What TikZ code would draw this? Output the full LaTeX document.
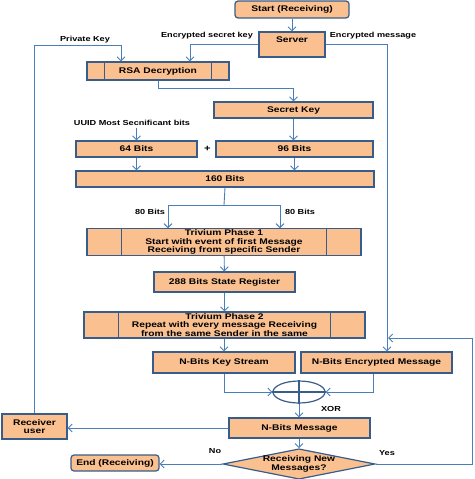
\documentclass[tikz,border=0pt]{standalone}
\usepackage{fontspec}
\setmainfont{Liberation Sans}[FakeStretch=1.25]
\usetikzlibrary{shapes.geometric,arrows.meta}
\definecolor{boxfill}{HTML}{FAC090}
\definecolor{boxline}{HTML}{385D8A}
\definecolor{flow}{HTML}{4A7EBB}
\begin{document}
\begin{tikzpicture}[x=1pt,y=-1pt,
    box/.style={draw=boxline, fill=boxfill, line width=1.2pt, inner sep=1pt,
      align=center, font=\fontsize{8.2}{8.3}\selectfont\bfseries},
    lbl/.style={inner sep=0pt, font=\fontsize{7.3}{8}\selectfont\bfseries},
    arr/.style={draw=flow, line width=0.9pt, -{Straight Barb[length=4pt,width=8pt]}},
    wire/.style={draw=flow, line width=0.9pt}]
  \useasboundingbox (0,0) rectangle (474,479);

  % Cajas
  \node[box, rounded corners=3pt, minimum width=114pt, minimum height=17pt] (start) at (292,9.5) {Start (Receiving)};
  \node[box, minimum width=66pt, minimum height=25pt, text depth=9pt] (server) at (292,44.5) {Server};
  \node[box, minimum width=142pt, minimum height=18pt] (rsa) at (158,71) {RSA Decryption};
  \node[box, minimum width=159pt, minimum height=16pt] (secret) at (293.5,110) {Secret Key};
  \node[box, minimum width=121pt, minimum height=16pt] (b64) at (136.5,149) {64 Bits};
  \node[box, minimum width=157pt, minimum height=16pt] (b96) at (294.5,149) {96 Bits};
  \node[box, minimum width=298pt, minimum height=16pt] (b160) at (225,179) {160 Bits};
  \node[box, minimum width=274pt, minimum height=26pt] (tri1) at (224,242)
    {Trivium Phase 1\\Start with event of first Message\\Receiving from specific Sender};
  \node[box, minimum width=141pt, minimum height=20pt] (reg) at (224.5,282) {288 Bits State Register};
  \node[box, minimum width=281pt, minimum height=26pt] (tri2) at (224.5,325)
    {Trivium Phase 2\\Repeat with every message Receiving\\from the same Sender in the same};
  \node[box, minimum width=142pt, minimum height=21pt] (key) at (224,362.5) {N-Bits Key Stream};
  \node[box, minimum width=151pt, minimum height=21pt] (enc) at (376.5,362.5) {N-Bits Encrypted Message};
  \node[draw=boxline, ellipse, line width=1.2pt, minimum width=52pt, minimum height=22pt] (xor) at (299,392) {};
  \node[box, minimum width=141pt, minimum height=20pt] (msg) at (299.5,428) {N-Bits Message};
  \node[box, minimum width=65pt, minimum height=25pt] (user) at (34.5,426.5) {Receiver\\user};
  \node[box, diamond, aspect=5, inner sep=0pt, minimum width=148pt, minimum height=29pt] (more) at (299,464)
    {Receiving New\\Messages?};
  \node[box, rounded corners=3pt, minimum width=88pt, minimum height=16pt] (end) at (115,463) {End (Receiving)};

  % Divisiones laterales
  \foreach \n/\d in {rsa/18, tri1/35, tri2/35} {
    \draw[boxline, line width=1.2pt] ([xshift=\d pt]\n.north west) -- ([xshift=\d pt]\n.south west);
    \draw[boxline, line width=1.2pt] ([xshift=-\d pt]\n.north east) -- ([xshift=-\d pt]\n.south east);
  }
  \draw[boxline, line width=1.2pt] (xor.north) -- (xor.south) (xor.west) -- (xor.east);

  % Etiquetas
  \node[lbl] (pklbl) at (85,40) {Private Key};
  \node[lbl] (esklbl) at (207,36) {Encrypted secret key};
  \node[lbl] (emlbl) at (373,36) {Encrypted message};
  \node[lbl] (uuid) at (132,123) {UUID Most Secnificant bits};
  \node[lbl, font=\fontsize{9}{9}\selectfont\bfseries] (plus) at (207.5,149) {+};
  \node[lbl] (l80a) at (150,212) {80 Bits};
  \node[lbl] (l80b) at (300,212) {80 Bits};
  \node[lbl] (xorlbl) at (331,409) {XOR};
  \node[lbl] (nolbl) at (215,451) {No};
  \node[lbl] (yeslbl) at (387,453) {Yes};

  % Flechas
  \coordinate (pk) at (121,45);
  \coordinate (split) at (224,205);
  \coordinate (yes) at (472.5,338);
  \coordinate (merge) at (388,338);
  \draw[arr] (start) -- (server);
  \draw[arr] (server.west) -| ([xshift=32pt]rsa.north);
  \draw[arr] (user.north) |- (pk) -- (pk |- rsa.north);
  \draw[arr] (server.east) -| ([xshift=10.5pt]enc.north);
  \draw[arr] (rsa.south) -- ++(0,8) -| (secret.north);
  \draw[arr] (b64.north |- uuid.south) ++(0,2) -- (b64.north);
  \draw[arr] (secret.south) -- (secret.south |- b96.north);
  \draw[arr] (b64.south) -- (b64.south |- b160.north);
  \draw[arr] (b96.south) -- (b96.south |- b160.north);
  \draw[wire] (b160.south) -- (split);
  \draw[arr] (split) -| ([xshift=-56pt]tri1.north);
  \draw[arr] (split) -| ([xshift=56pt]tri1.north);
  \draw[arr] (tri1) -- (reg);
  \draw[arr] (reg) -- (tri2);
  \draw[arr] (tri2.south -| key.north) -- (key.north);
  \draw[arr] (key.south) |- (xor.west);
  \draw[arr] ([xshift=-3.5pt]enc.south) |- (xor.east);
  \draw[arr] (xor.south) -- (xor.south |- msg.north);
  \draw[arr] (msg.west) -- (msg.west -| user.east);
  \draw[arr] (msg.south -| more.north) -- (more.north);
  \draw[arr] (more.west) -- (more.west -| end.east);
  \draw[arr] (more.east) -| (yes) -- (merge);
\end{tikzpicture}
\end{document}
